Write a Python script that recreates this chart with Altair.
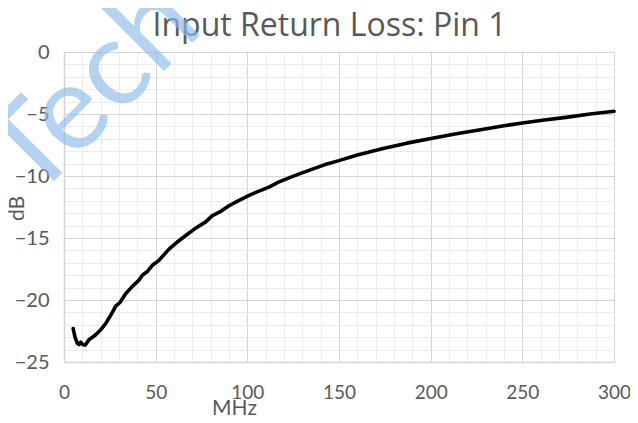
import altair as alt
import pandas as pd

freq_mhz = [5, 6, 7.3, 8.2, 9.1, 10.3, 11.5, 13.6, 15.5, 17.3, 20, 22.7, 26.4, 28.2,
            30.5, 33.6, 37.3, 40.9, 42.7, 45.5, 48.2, 51.8, 57.3, 62, 66.4, 70.9,
            77.3, 80.9, 85, 90, 95, 100.4, 105, 111.8, 117, 122.7, 128, 135.5, 142,
            149, 160, 173.5, 187, 200.9, 214, 228, 240, 250, 262, 273.8, 287, 300]
loss_db = [-22.3, -23.0, -23.5, -23.6, -23.4, -23.6, -23.65, -23.2, -23.0, -22.8,
           -22.4, -21.9, -21.0, -20.5, -20.2, -19.5, -18.9, -18.4, -18.0, -17.7,
           -17.2, -16.8, -15.9, -15.3, -14.8, -14.3, -13.7, -13.2, -12.9, -12.4,
           -12.0, -11.6, -11.3, -10.9, -10.5, -10.15, -9.85, -9.45, -9.1, -8.8,
           -8.3, -7.8, -7.35, -6.95, -6.6, -6.25, -5.95, -5.72, -5.48, -5.27,
           -5.0, -4.78]

x_major = [0, 50, 100, 150, 200, 250, 300]
x_minor = list(range(0, 301, 10))
y_major = [0, -5, -10, -15, -20, -25]
y_minor = list(range(-25, 1, 1))

title_text = ["Input Return Loss: Pin 1"]
x_title = "MHz"
y_title = "dB"
watermark = ["Tech"]

df = pd.DataFrame({"f": freq_mhz, "db": loss_db})
wm = pd.DataFrame({"t": watermark})
tt = pd.DataFrame({"t": title_text})

FONT = "Lato"
LABEL = "#595959"
xs = alt.Scale(domain=[0, 300], nice=False, zero=False)
ys = alt.Scale(domain=[-25, 0], nice=False, zero=False)

minor = alt.Chart(df).mark_line(opacity=0).encode(
    x=alt.X("f:Q", scale=xs, axis=alt.Axis(values=x_minor, grid=True, gridColor="#ececec",
            gridWidth=1, labels=False, ticks=False, domain=False, title=None, orient="top")),
    y=alt.Y("db:Q", scale=ys, axis=alt.Axis(values=y_minor, grid=True, gridColor="#ececec",
            gridWidth=1, labels=False, ticks=False, domain=False, title=None, orient="right")),
)

main = alt.Chart(df).mark_line(color="black", strokeWidth=3.6, strokeJoin="round",
                               strokeCap="round").encode(
    x=alt.X("f:Q", scale=xs, axis=alt.Axis(values=x_major, grid=True, gridColor="#d4d4d4",
            gridWidth=1, ticks=False, domain=True, domainColor="#d4d4d4", domainWidth=1.5,
            labelFont=FONT, labelFontSize=19, labelColor=LABEL, labelPadding=21,
            labelFlush=False,
            title=x_title, titleFont=FONT, titleFontSize=21, titleFontWeight="normal",
            titleColor=LABEL, titleX=170, titleY=52, titleBaseline="alphabetic",
            titleAnchor="middle", titleAlign="center", orient="bottom")),
    y=alt.Y("db:Q", scale=ys, axis=alt.Axis(values=y_major, grid=True, gridColor="#d4d4d4",
            gridWidth=1, ticks=False, domain=True, domainColor="#d4d4d4", domainWidth=1.5,
            labelFont=FONT, labelFontSize=20, labelColor=LABEL, labelPadding=15,
            labelFlush=False,
            title=y_title, titleFont=FONT, titleFontSize=21, titleFontWeight="normal",
            titleColor=LABEL, titleX=-41, titleY=156, titleAngle=-90,
            titleBaseline="alphabetic", titleAlign="center", orient="left")),
)

mark_title = alt.Chart(tt).mark_text(
    font="Open Sans", fontSize=32, align="center", baseline="alphabetic", color=LABEL,
).encode(text="t:N", x=alt.value(265.5), y=alt.value(-16))

mark_wm = alt.Chart(wm).mark_text(
    font=FONT, fontSize=120, angle=315, align="left", baseline="alphabetic",
    color="#8dbbea", opacity=0.65,
).encode(text="t:N", x=alt.value(-31), y=alt.value(150))

chart = alt.layer(minor, main, mark_title, mark_wm).resolve_axis(
    x="independent", y="independent").properties(
    width=550, height=310,
    autosize=alt.AutoSizeParams(type="none"),
    padding={"left": 56, "top": 44, "right": 16, "bottom": 53},
).configure_view(stroke=None).configure(background="white")

chart.save("out.html", embed_options={"renderer": "svg", "actions": False})
